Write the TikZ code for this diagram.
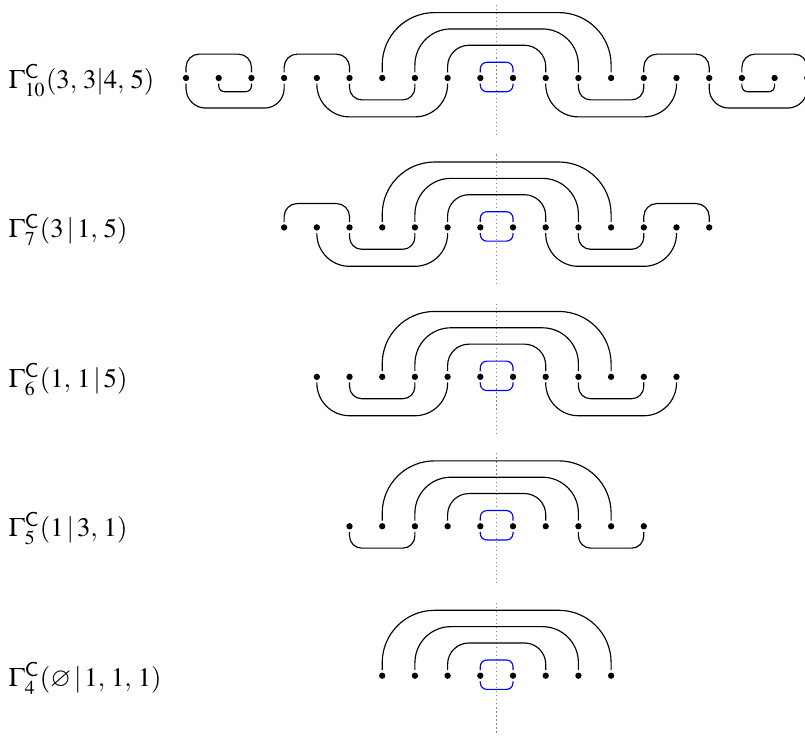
\documentclass[tikz,border=0pt]{standalone}
\usepackage{mathptmx}
\usepackage{amssymb}

\tikzset{
  dot/.style={circle, fill, inner sep=0pt, minimum size=2.2pt, outer sep=0.85pt},
  rowname/.style={anchor=west, inner sep=0pt, font=\fontsize{9.3}{11}\selectfont},
  bluelink/.style={blue, rounded corners=0.8mm},
  midline/.style={gray, densely dotted, line width=0.4pt},
  up1/.style={rounded corners=1.6mm},
  up2/.style={rounded corners=2.6mm},
  up3/.style={rounded corners=4.4mm},
  up4/.style={rounded corners=6.4mm},
  down1/.style={rounded corners=0.7mm},
  down2/.style={rounded corners=1.5mm},
  down3/.style={rounded corners=2.4mm},
  down4/.style={rounded corners=4mm}
}

\begin{document}
\begin{tikzpicture}[x=0.4cm, y=0.4cm]
            \useasboundingbox (-15.19,2.385) rectangle (9.43,-20.12);

            \node[rowname] (la) at (-14.94,-0.08) {$\Gamma^{\mathsf{C}}_{10}(3,\, 3|4,\, 5)$};
            \draw[midline] (0,2.23) -- (0,-1.8);
            \node[dot] (a1) at (-9.5,0) {};
            \node[dot] (a2) at (-8.5,0) {};
            \node[dot] (a3) at (-7.5,0) {};
            \node[dot] (a4) at (-6.5,0) {};
            \node[dot] (a5) at (-5.5,0) {};
            \node[dot] (a6) at (-4.5,0) {};
            \node[dot] (a7) at (-3.5,0) {};
            \node[dot] (a8) at (-2.5,0) {};
            \node[dot] (a9) at (-1.5,0) {};
            \node[dot] (a10) at (-0.5,0) {};
            \node[dot] (a11) at (0.5,0) {};
            \node[dot] (a12) at (1.5,0) {};
            \node[dot] (a13) at (2.5,0) {};
            \node[dot] (a14) at (3.5,0) {};
            \node[dot] (a15) at (4.5,0) {};
            \node[dot] (a16) at (5.5,0) {};
            \node[dot] (a17) at (6.5,0) {};
            \node[dot] (a18) at (7.5,0) {};
            \node[dot] (a19) at (8.5,0) {};
            \node[dot] (a20) at (9.5,0) {};
            \draw[up1] (a1) -- ++(0,0.73) -| (a3);
            \draw[up1] (a4) -- ++(0,0.73) -| (a6);
            \draw[up4] (a7) -- ++(0,2) -| (a14);
            \draw[up3] (a8) -- ++(0,1.5) -| (a13);
            \draw[up2] (a9) -- ++(0,1) -| (a12);
            \draw[up1] (a15) -- ++(0,0.73) -| (a17);
            \draw[up1] (a18) -- ++(0,0.73) -| (a20);
            \draw[down1] (a2) -- ++(0,-0.42) -| (a3);
            \draw[down3] (a1) -- ++(0,-0.92) -| (a4);
            \draw[down2] (a6) -- ++(0,-0.67) -| (a8);
            \draw[down4] (a5) -- ++(0,-1.19) -| (a9);
            \draw[down2] (a13) -- ++(0,-0.67) -| (a15);
            \draw[down4] (a12) -- ++(0,-1.19) -| (a16);
            \draw[down3] (a17) -- ++(0,-0.92) -| (a20);
            \draw[down1] (a18) -- ++(0,-0.42) -| (a19);
            \draw[bluelink] (a10) -- ++(0,0.48) -| (a11);
            \draw[bluelink] (a10) -- ++(0,-0.42) -| (a11);

            \node[rowname] (lb) at (-14.94,-4.65) {$\Gamma^{\mathsf{C}}_{7}(3\,|\,1,\, 5)$};
            \draw[midline] (0,-2.34) -- (0,-6.37);
            \node[dot] (b1) at (-6.5,-4.57) {};
            \node[dot] (b2) at (-5.5,-4.57) {};
            \node[dot] (b3) at (-4.5,-4.57) {};
            \node[dot] (b4) at (-3.5,-4.57) {};
            \node[dot] (b5) at (-2.5,-4.57) {};
            \node[dot] (b6) at (-1.5,-4.57) {};
            \node[dot] (b7) at (-0.5,-4.57) {};
            \node[dot] (b8) at (0.5,-4.57) {};
            \node[dot] (b9) at (1.5,-4.57) {};
            \node[dot] (b10) at (2.5,-4.57) {};
            \node[dot] (b11) at (3.5,-4.57) {};
            \node[dot] (b12) at (4.5,-4.57) {};
            \node[dot] (b13) at (5.5,-4.57) {};
            \node[dot] (b14) at (6.5,-4.57) {};
            \draw[up1] (b1) -- ++(0,0.73) -| (b3);
            \draw[up4] (b4) -- ++(0,2) -| (b11);
            \draw[up3] (b5) -- ++(0,1.5) -| (b10);
            \draw[up2] (b6) -- ++(0,1) -| (b9);
            \draw[up1] (b12) -- ++(0,0.73) -| (b14);
            \draw[down2] (b3) -- ++(0,-0.67) -| (b5);
            \draw[down4] (b2) -- ++(0,-1.19) -| (b6);
            \draw[down2] (b10) -- ++(0,-0.67) -| (b12);
            \draw[down4] (b9) -- ++(0,-1.19) -| (b13);
            \draw[bluelink] (b7) -- ++(0,0.48) -| (b8);
            \draw[bluelink] (b7) -- ++(0,-0.42) -| (b8);

            \node[rowname] (lc) at (-14.94,-9.22) {$\Gamma^{\mathsf{C}}_{6}(1,\, 1\,|\,5)$};
            \draw[midline] (0,-6.91) -- (0,-10.94);
            \node[dot] (c1) at (-5.5,-9.14) {};
            \node[dot] (c2) at (-4.5,-9.14) {};
            \node[dot] (c3) at (-3.5,-9.14) {};
            \node[dot] (c4) at (-2.5,-9.14) {};
            \node[dot] (c5) at (-1.5,-9.14) {};
            \node[dot] (c6) at (-0.5,-9.14) {};
            \node[dot] (c7) at (0.5,-9.14) {};
            \node[dot] (c8) at (1.5,-9.14) {};
            \node[dot] (c9) at (2.5,-9.14) {};
            \node[dot] (c10) at (3.5,-9.14) {};
            \node[dot] (c11) at (4.5,-9.14) {};
            \node[dot] (c12) at (5.5,-9.14) {};
            \draw[up4] (c3) -- ++(0,2) -| (c10);
            \draw[up3] (c4) -- ++(0,1.5) -| (c9);
            \draw[up2] (c5) -- ++(0,1) -| (c8);
            \draw[down2] (c2) -- ++(0,-0.67) -| (c4);
            \draw[down4] (c1) -- ++(0,-1.19) -| (c5);
            \draw[down2] (c9) -- ++(0,-0.67) -| (c11);
            \draw[down4] (c8) -- ++(0,-1.19) -| (c12);
            \draw[bluelink] (c6) -- ++(0,0.48) -| (c7);
            \draw[bluelink] (c6) -- ++(0,-0.42) -| (c7);

            \node[rowname] (ld) at (-14.94,-13.79) {$\Gamma^{\mathsf{C}}_{5}(1\,|\,3,\, 1)$};
            \draw[midline] (0,-11.48) -- (0,-15.51);
            \node[dot] (d1) at (-4.5,-13.71) {};
            \node[dot] (d2) at (-3.5,-13.71) {};
            \node[dot] (d3) at (-2.5,-13.71) {};
            \node[dot] (d4) at (-1.5,-13.71) {};
            \node[dot] (d5) at (-0.5,-13.71) {};
            \node[dot] (d6) at (0.5,-13.71) {};
            \node[dot] (d7) at (1.5,-13.71) {};
            \node[dot] (d8) at (2.5,-13.71) {};
            \node[dot] (d9) at (3.5,-13.71) {};
            \node[dot] (d10) at (4.5,-13.71) {};
            \draw[up4] (d2) -- ++(0,2) -| (d9);
            \draw[up3] (d3) -- ++(0,1.5) -| (d8);
            \draw[up2] (d4) -- ++(0,1) -| (d7);
            \draw[down2] (d1) -- ++(0,-0.67) -| (d3);
            \draw[down2] (d8) -- ++(0,-0.67) -| (d10);
            \draw[bluelink] (d5) -- ++(0,0.48) -| (d6);
            \draw[bluelink] (d5) -- ++(0,-0.42) -| (d6);

            \node[rowname] (le) at (-14.94,-18.36) {$\Gamma^{\mathsf{C}}_{4}(\varnothing\,|\,1,\, 1,\, 1)$};
            \draw[midline] (0,-16.05) -- (0,-20.12);
            \node[dot] (e1) at (-3.5,-18.28) {};
            \node[dot] (e2) at (-2.5,-18.28) {};
            \node[dot] (e3) at (-1.5,-18.28) {};
            \node[dot] (e4) at (-0.5,-18.28) {};
            \node[dot] (e5) at (0.5,-18.28) {};
            \node[dot] (e6) at (1.5,-18.28) {};
            \node[dot] (e7) at (2.5,-18.28) {};
            \node[dot] (e8) at (3.5,-18.28) {};
            \draw[up4] (e1) -- ++(0,2) -| (e8);
            \draw[up3] (e2) -- ++(0,1.5) -| (e7);
            \draw[up2] (e3) -- ++(0,1) -| (e6);
            \draw[bluelink] (e4) -- ++(0,0.48) -| (e5);
            \draw[bluelink] (e4) -- ++(0,-0.42) -| (e5);
          \end{tikzpicture}
\end{document}
